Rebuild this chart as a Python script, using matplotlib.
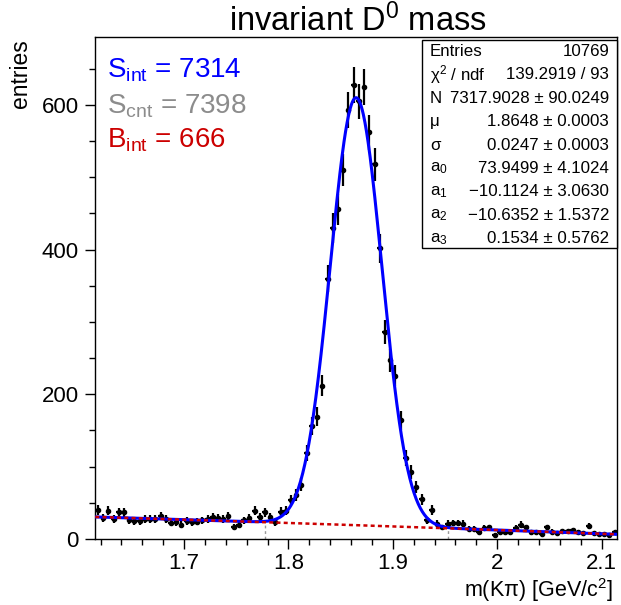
import numpy as np
import matplotlib
matplotlib.use('Agg')
import matplotlib.pyplot as plt
from matplotlib.patches import Rectangle

plt.rcParams['font.family'] = ['Liberation Sans', 'DejaVu Sans']
plt.rcParams['mathtext.default'] = 'regular'

# histogram: 100 bins of 5 MeV from 1.615 to 2.115 GeV
x_lo, x_hi, n_bins = 1.615, 2.115, 100
counts = [40, 29, 39, 28, 37, 37, 26, 25, 25, 28,
          28, 28, 32, 28, 22, 23, 20, 25, 23, 24,
          26, 28, 31, 29, 28, 32, 17, 19, 26, 29,
          39, 31, 37, 31, 23, 38, 39, 54, 61, 75,
          119, 156, 169, 212, 360, 430, 456, 510, 593, 628,
          605, 625, 562, 518, 402, 286, 247, 226, 164, 112,
          93, 72, 55, 26, 40, 21, 16, 21, 22, 22,
          21, 14, 14, 10, 15, 16, 5, 9, 9, 9,
          15, 20, 16, 9, 9, 7, 16, 10, 8, 11,
          11, 12, 9, 8, 18, 8, 7, 7, 6, 9]

# fit result (gauss + pol3)
N_sig, mu, sigma = 7317.9028, 1.8648, 0.0247
a0, a1, a2, a3 = 73.9499, -10.1124, -10.6352, 0.1534
sig_lo, sig_hi = 1.778, 1.953

stat_names = ['Entries', '$χ^{2}$ / ndf', 'N', 'μ', 'σ',
              '$a_{0}$', '$a_{1}$', '$a_{2}$', '$a_{3}$']
stat_values = ['10769', '139.2919 / 93', '7317.9028 ± 90.0249',
               '1.8648 ± 0.0003', '0.0247 ± 0.0003', '73.9499 ± 4.1024',
               '\u221210.1124 ± 3.0630', '\u221210.6352 ± 1.5372',
               '0.1534 ± 0.5762']

S_int, S_cnt, B_int = 7314, 7398, 666

W, H = 621, 605


def px(x, y):
    return x / W, 1 - y / H


def bkg(m):
    return a0 + a1 * m + a2 * m**2 + a3 * m**3


def total(m):
    bw = (x_hi - x_lo) / n_bins
    g = N_sig * bw / (sigma * np.sqrt(2 * np.pi)) * np.exp(-0.5 * ((m - mu) / sigma)**2)
    return g + bkg(m)


fig = plt.figure(figsize=(W / 100, H / 100), dpi=100)
ax = fig.add_axes([95.3 / W, (H - 539) / H, (617.3 - 95.3) / W, (539 - 37) / H])

edges = np.linspace(x_lo, x_hi, n_bins + 1)
centers = 0.5 * (edges[1:] + edges[:-1])
y = np.array(counts, dtype=float)
ax.errorbar(centers, y, yerr=np.sqrt(y), xerr=0.5 * (edges[1] - edges[0]),
            fmt='o', ms=3.0, color='black', elinewidth=1.6, capsize=0, zorder=2)

m = np.linspace(x_lo, x_hi, 1000)
ax.plot(m, total(m), color='#0000ff', lw=2.2, zorder=3)
ax.plot(m, bkg(m), color='#cc0000', lw=1.8, ls=(0, (1.6, 1.3)), zorder=4)

for xs in (sig_lo, sig_hi):
    ax.plot([xs, xs], [0, bkg(xs)], color='#999999', lw=1.0, ls=(0, (2, 2)), zorder=1)

ax.set_xlim(x_lo, x_hi)
ax.set_ylim(0, 694)
ax.set_xticks([1.7, 1.8, 1.9, 2.0, 2.1])
ax.set_xticklabels(['1.7', '1.8', '1.9', '2', '2.1'])
ax.set_xticks(np.arange(1.62, 2.115, 0.02), minor=True)
ax.set_yticks([0, 200, 400, 600])
ax.set_yticks(np.arange(0, 694, 50), minor=True)
ax.tick_params(which='both', direction='out', labelsize=16, width=1.0, top=False, right=False)
ax.tick_params(which='major', length=7)
ax.tick_params(which='minor', length=4)
ax.tick_params(axis='x', pad=3)
ax.tick_params(axis='y', pad=5)
for s in ax.spines.values():
    s.set_linewidth(1.0)

fig.text(*px(358, 21), 'invariant $D^{0}$ mass', fontsize=23.5, ha='center', va='center')
fig.text(*px(21, 39), 'entries', fontsize=16.5, rotation=90, ha='center', va='top')
fig.text(*px(613, 604), 'm(Kπ) [GeV/$c^{2}$]', fontsize=15.5, ha='right', va='bottom')

fig.text(*px(107, 77), '$S_{int}$ = %d' % S_int, fontsize=20, color='#0000ff', va='baseline')
fig.text(*px(107, 113), '$S_{cnt}$ = %d' % S_cnt, fontsize=20, color='#8c8c8c', va='baseline')
fig.text(*px(107, 148), '$B_{int}$ = %d' % B_int, fontsize=20, color='#cc0000', va='baseline')

# stats box
bx0, by0, bx1, by1 = 422, 40, 617.3, 248
fig.patches.append(Rectangle(px(bx0, by1), (bx1 - bx0) / W, (by1 - by0) / H,
                             transform=fig.transFigure, facecolor='white',
                             edgecolor='black', lw=1.0, zorder=5))
for k, (nm, val) in enumerate(zip(stat_names, stat_values)):
    yc = 51.5 + k * 23.4
    fig.text(*px(430, yc), nm, fontsize=12.2, ha='left', va='center', zorder=6)
    fig.text(*px(609, yc), val, fontsize=12.2, ha='right', va='center', zorder=6)

fig.savefig('out.png', dpi=100)
